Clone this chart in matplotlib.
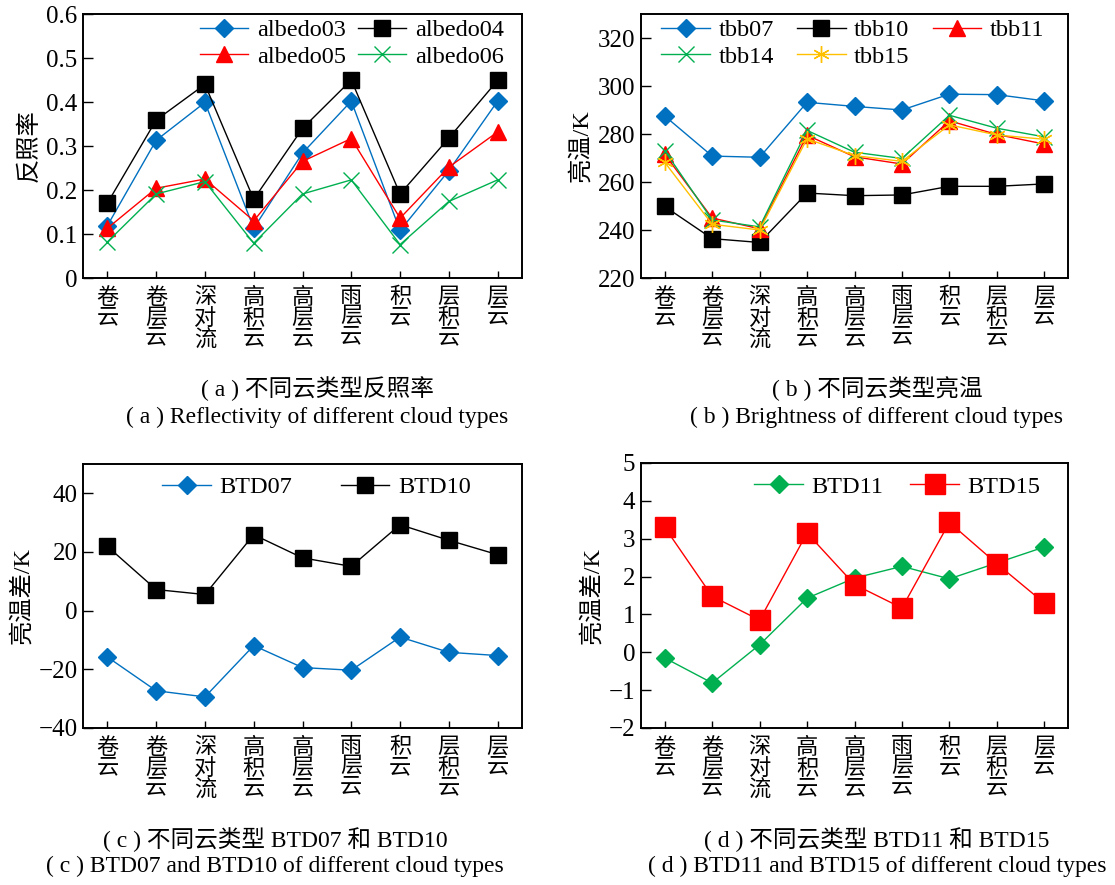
import matplotlib
matplotlib.use('Agg')
import matplotlib.pyplot as plt

plt.rcParams['font.family'] = ['Liberation Serif', 'Noto Sans CJK SC']
plt.rcParams['axes.unicode_minus'] = True

# cloud types (vertical labels)
cloud_types = ['卷云', '卷层云', '深对流', '高积云', '高层云', '雨层云', '积云', '层积云', '层云']

# (a) reflectivity
albedo03 = [0.119, 0.313, 0.399, 0.113, 0.284, 0.402, 0.108, 0.244, 0.402]
albedo04 = [0.170, 0.359, 0.440, 0.179, 0.340, 0.450, 0.191, 0.318, 0.449]
albedo05 = [0.113, 0.204, 0.225, 0.130, 0.265, 0.317, 0.136, 0.252, 0.332]
albedo06 = [0.082, 0.191, 0.219, 0.079, 0.191, 0.223, 0.076, 0.174, 0.223]

# (b) brightness temperature
tbb07 = [287.5, 270.8, 270.3, 293.2, 291.5, 290.0, 296.6, 296.4, 293.8]
tbb10 = [249.8, 236.4, 234.8, 255.4, 254.3, 254.6, 258.2, 258.2, 259.2]
tbb11 = [271.5, 245.0, 240.5, 279.5, 270.5, 267.5, 285.5, 279.8, 275.8]
tbb14 = [273.0, 244.2, 241.3, 281.5, 272.4, 269.8, 287.8, 282.4, 278.8]
tbb15 = [268.2, 242.4, 240.0, 278.0, 271.0, 268.6, 283.8, 279.6, 277.8]

# (c) BTD07 / BTD10
btd07 = [-15.8, -27.3, -29.4, -11.9, -19.4, -20.3, -9.0, -14.2, -15.3]
btd10 = [21.9, 7.2, 5.5, 25.9, 18.0, 15.1, 29.3, 24.0, 19.1]

# (d) BTD11 / BTD15
btd11 = [-0.15, -0.81, 0.20, 1.43, 1.96, 2.27, 1.94, 2.36, 2.78]
btd15 = [3.30, 1.48, 0.85, 3.15, 1.79, 1.17, 3.43, 2.34, 1.30]

BLUE = '#0070C0'
RED = '#FF0000'
GREEN = '#00B050'
YELLOW = '#FFC000'

W, H = 1115, 885
fig = plt.figure(figsize=(W / 100, H / 100), dpi=100)


def add_ax(x0, y0, x1, y1):
    # pixel box (left, top, right, bottom) -> figure fraction
    return fig.add_axes([x0 / W, 1 - y1 / H, (x1 - x0) / W, (y1 - y0) / H])


def style(ax, ylim, yticks, ylabel):
    xs = range(1, len(cloud_types) + 1)
    ax.set_xlim(0.5, len(cloud_types) + 0.5)
    ax.set_ylim(*ylim)
    ax.set_yticks(yticks)
    ax.set_xticks(list(xs))
    ax.set_xticklabels(['\n'.join(c) for c in cloud_types], fontsize=16,
                       linespacing=1.05, va='top')
    ax.tick_params(axis='both', direction='in', width=1)
    ax.tick_params(axis='y', labelsize=18, pad=4, length=7)
    ax.tick_params(axis='x', pad=7, length=5)
    for sp in ax.spines.values():
        sp.set_linewidth(1.4)
    ax.set_ylabel(ylabel, fontsize=17.5, labelpad=4)


def legend(ax, order, x, y, ncol, colsp):
    h, l = ax.get_legend_handles_labels()
    ax.legend([h[i] for i in order], [l[i] for i in order], ncol=ncol,
              loc='upper left', bbox_to_anchor=(x, y), frameon=False,
              fontsize=17.5, handlelength=2.0, handletextpad=0.35,
              columnspacing=colsp, labelspacing=0.2, borderpad=0.1,
              borderaxespad=0)


x = range(1, len(cloud_types) + 1)

# ---- (a)
ax = add_ax(83, 14, 522, 278)
ax.plot(x, albedo03, color=BLUE, lw=1, marker='D', ms=9, label='albedo03')
ax.plot(x, albedo04, color='k', lw=1, marker='s', ms=12, label='albedo04')
ax.plot(x, albedo05, color=RED, lw=1, marker='^', ms=12, label='albedo05')
ax.plot(x, albedo06, color=GREEN, lw=1, marker='x', ms=11, mew=1, label='albedo06')
style(ax, (0, 0.6), [0, 0.1, 0.2, 0.3, 0.4, 0.5, 0.6], '反照率')
ax.set_yticklabels(['0', '0.1', '0.2', '0.3', '0.4', '0.5', '0.6'])
legend(ax, [0, 2, 1, 3], 0.26, 0.99, 2, 0.5)

# ---- (b)
ax = add_ax(641, 14, 1068, 278)
ax.plot(x, tbb07, color=BLUE, lw=1, marker='D', ms=9, label='tbb07')
ax.plot(x, tbb10, color='k', lw=1, marker='s', ms=11, label='tbb10')
ax.plot(x, tbb11, color=RED, lw=1, marker='^', ms=12, label='tbb11')
ax.plot(x, tbb14, color=GREEN, lw=1, marker='x', ms=11, mew=1, label='tbb14')
ax.plot(x, tbb15, color=YELLOW, lw=1, marker=(6, 2, 0), ms=12, mew=1, label='tbb15')
style(ax, (220, 330), [220, 240, 260, 280, 300, 320], '亮温/K')
legend(ax, [0, 3, 1, 4, 2], 0.042, 0.99, 3, 0.95)

# ---- (c)
ax = add_ax(83, 464, 522, 728)
ax.plot(x, btd07, color=BLUE, lw=1, marker='D', ms=9, label='BTD07')
ax.plot(x, btd10, color='k', lw=1, marker='s', ms=12, label='BTD10')
style(ax, (-40, 50), [-40, -20, 0, 20, 40], '亮温差/K')
legend(ax, [0, 1], 0.175, 0.962, 2, 2.0)

# ---- (d)
ax = add_ax(641, 463, 1068, 728)
ax.plot(x, btd11, color=GREEN, lw=1, marker='D', ms=9, label='BTD11')
ax.plot(x, btd15, color=RED, lw=1, marker='s', ms=14, label='BTD15')
style(ax, (-2, 5), [-2, -1, 0, 1, 2, 3, 4, 5], '亮温差/K')
legend(ax, [0, 1], 0.26, 0.962, 2, 1.1)

# captions
cap = dict(ha='center', va='center', fontsize=17)
fig.text(317 / W, 1 - 389 / H, '( a ) 不同云类型反照率', **cap)
fig.text(317 / W, 1 - 417 / H, '( a ) Reflectivity of different cloud types', **cap)
fig.text(877 / W, 1 - 389 / H, '( b ) 不同云类型亮温', **cap)
fig.text(877 / W, 1 - 417 / H, '( b ) Brightness of different cloud types', **cap)
fig.text(275 / W, 1 - 840 / H, '( c ) 不同云类型 BTD07 和 BTD10', **cap)
fig.text(275 / W, 1 - 866 / H, '( c ) BTD07 and BTD10 of different cloud types', **cap)
fig.text(877 / W, 1 - 840 / H, '( d ) 不同云类型 BTD11 和 BTD15', **cap)
fig.text(877 / W, 1 - 866 / H, '( d ) BTD11 and BTD15 of different cloud types', **cap)

fig.savefig('out.png', dpi=100, facecolor='white')
